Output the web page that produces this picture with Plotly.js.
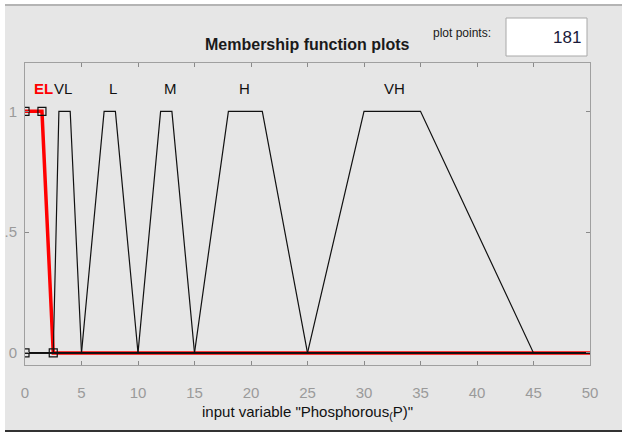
<!DOCTYPE html>
<html>
<head>
<meta charset="utf-8">
<script src="https://cdn.plot.ly/plotly-3.0.1.min.js"></script>
<style>
  html, body { margin: 0; padding: 0; background: #ffffff; }
  #chart { width: 622px; height: 434px; }
</style>
</head>
<body>
<div id="chart"></div>
<script>
// ---- data ----
const mfNames = ['EL', 'VL', 'L', 'M', 'H', 'VH'];
const mfA = [0, 2.5, 5, 10, 15, 25];
const mfB = [0, 3, 7, 12, 18, 30];
const mfC = [1.5, 4, 8, 13, 21, 35];
const mfD = [2.5, 5, 10, 15, 25, 45];
const labelX = [1.6, 3.4, 7.8, 12.9, 19.4, 32.7];
const selectedIndex = 0;
const xRange = [0, 50];
const xTicks = [0, 5, 10, 15, 20, 25, 30, 35, 40, 45, 50];
const yTicks = [0, 0.5, 1];
const yTickText = ['0', '.5', '1'];
const plotPoints = 181;
const inputName = 'Phosphorous<sub>(</sub>P)';

// ---- layout helpers (pixel -> paper) ----
const W = 622, H = 434;
const M = { l: 25, r: 32, t: 63, b: 69 };
const PW = W - M.l - M.r, PH = H - M.t - M.b;
const px = v => (v - M.l) / PW;
const py = v => (H - M.b - v) / PH;

const FONT = '"Liberation Sans", Arial, Helvetica, sans-serif';

function mfXY(i) {
  const x = [], y = [];
  if (mfA[i] > xRange[0]) { x.push(xRange[0]); y.push(0); }
  if (mfB[i] > mfA[i] || mfA[i] > xRange[0]) { x.push(mfA[i]); y.push(0); }
  x.push(mfB[i], mfC[i], mfD[i]); y.push(1, 1, 0);
  if (mfD[i] < xRange[1]) { x.push(xRange[1]); y.push(0); }
  return { x, y };
}

const traces = [];
{
  const p = mfXY(selectedIndex);
  traces.push({ x: p.x, y: p.y, type: 'scatter', mode: 'lines',
    line: { color: '#ff0000', width: 3.5 }, hoverinfo: 'skip', showlegend: false });
}
mfNames.forEach((n, i) => {
  if (i === selectedIndex) return;
  const p = mfXY(i);
  traces.push({ x: p.x, y: p.y, type: 'scatter', mode: 'lines',
    line: { color: '#111111', width: 1.2 }, hoverinfo: 'skip', showlegend: false });
});
traces.push({
  x: [mfA[selectedIndex], mfB[selectedIndex], mfC[selectedIndex], mfD[selectedIndex]],
  y: [0, 1, 1, 0],
  type: 'scatter', mode: 'markers',
  marker: { symbol: 'square-open', size: 8, color: '#111111', line: { width: 1.2 } },
  hoverinfo: 'skip', showlegend: false
});

const annotations = mfNames.map((n, i) => ({
  x: labelX[i], y: 1.095, xref: 'x', yref: 'y', text: i === selectedIndex ? '<b>' + n + '</b>' : n,
  showarrow: false, xanchor: 'center', yanchor: 'middle',
  font: { family: FONT, size: 15, color: i === selectedIndex ? '#ff0000' : '#111111' }
}));
annotations.push({
  x: px(307), y: py(45), xref: 'paper', yref: 'paper', text: '<b>Membership function plots</b>',
  showarrow: false, xanchor: 'center', yanchor: 'middle',
  font: { family: FONT, size: 16, color: '#1a1a1a' }
});
annotations.push({
  x: px(462), y: py(33), xref: 'paper', yref: 'paper', text: 'plot points:',
  showarrow: false, xanchor: 'center', yanchor: 'middle',
  font: { family: FONT, size: 12, color: '#1a1a1a' }
});
annotations.push({
  x: px(583), y: py(38), xref: 'paper', yref: 'paper', text: String(plotPoints),
  showarrow: false, xanchor: 'right', yanchor: 'middle',
  font: { family: FONT, size: 17, color: '#1a1a3a' }
});

const shapes = [
  { type: 'rect', xref: 'paper', yref: 'paper', x0: px(5), x1: px(622), y0: py(430), y1: py(6),
    fillcolor: '#e6e6e6', line: { width: 0 }, layer: 'below' },
  { type: 'line', xref: 'paper', yref: 'paper', x0: px(5), x1: px(622), y0: py(5), y1: py(5),
    line: { color: '#b4b4b4', width: 2 }, layer: 'below' },
  { type: 'line', xref: 'paper', yref: 'paper', x0: px(5), x1: px(622), y0: py(431), y1: py(431),
    line: { color: '#333333', width: 2 }, layer: 'below' },
  { type: 'rect', xref: 'paper', yref: 'paper', x0: px(506), x1: px(587), y0: py(56), y1: py(18),
    fillcolor: '#ffffff', line: { color: '#a8a8a8', width: 1 }, layer: 'below' }
];

const layout = {
  width: W, height: H,
  margin: M,
  paper_bgcolor: '#ffffff',
  plot_bgcolor: '#ffffcc',
  showlegend: false,
  font: { family: FONT },
  xaxis: {
    range: xRange, tickvals: xTicks, ticktext: xTicks.map(String),
    showgrid: false, zeroline: false, showline: true, linecolor: '#a0a0a0', linewidth: 1,
    mirror: 'ticks', ticks: 'inside', ticklen: 4, tickcolor: '#8a8a8a',
    tickfont: { family: FONT, size: 15, color: '#9a9a9a' }, ticklabelstandoff: 14,
    title: { text: 'input variable "' + inputName + '"', font: { family: FONT, size: 15, color: '#111111' }, standoff: 6 },
    fixedrange: true
  },
  yaxis: {
    range: [-0.05, 1.2], tickvals: yTicks, ticktext: yTickText,
    showgrid: false, zeroline: false, showline: true, linecolor: '#a0a0a0', linewidth: 1,
    mirror: 'ticks', ticks: 'inside', ticklen: 4, tickcolor: '#8a8a8a',
    tickfont: { family: FONT, size: 15, color: '#9a9a9a' }, ticklabelstandoff: 4,
    fixedrange: true
  },
  annotations: annotations,
  shapes: shapes
};

Plotly.newPlot('chart', traces, layout, { displayModeBar: false, staticPlot: true });
</script>
</body>
</html>
